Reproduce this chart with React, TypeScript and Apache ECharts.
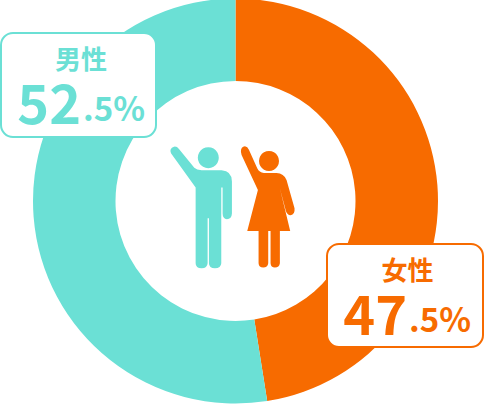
import React, { useEffect, useRef } from "react";
import * as echarts from "echarts";

const categories = ["女性", "男性"];
const values = [47.5, 52.5];
const colors = ["#f76b00", "#6be0d5"];

const manPath =
  "M33 55 Q27 40 42 35 Q50 33 57 42 L103 98 Q110 105 125 106 L185 106 Q216 108 216 140 L216 236 Q215 253 201 253 Q188 252 188 236 L188 158 L184 158 L184 385 Q183 400 165 400 Q147 400 147 385 L147 250 L143 250 L143 385 Q142 400 125 400 Q107 400 107 385 L107 158 Z";
const womanPath =
  "M243 50 Q243 35 255 34 Q263 35 267 44 L292 100 Q298 113 312 114 L350 114 Q372 115 380 135 L404 220 Q406 238 392 241 Q382 240 378 228 L360 160 L391 288 L360 288 L360 385 Q358 398 345 398 Q333 398 332 385 L332 288 L325 288 L325 385 Q323 398 310 398 Q297 398 296 385 L296 288 L262 288 L294 165 L245 60 Z";

echarts.graphic.registerShape("manIcon", echarts.graphic.extendPath(manPath, {}));
echarts.graphic.registerShape("womanIcon", echarts.graphic.extendPath(womanPath, {}));

const FONT = '"Noto Sans CJK JP", "Noto Sans", sans-serif';

function labelBox(i: number, x: number, y: number, w: number, h: number) {
  const color = colors[i];
  const [whole, frac] = values[i].toFixed(1).split(".");
  const cx = x + w / 2 + 2.5;
  return [
    {
      type: "rect",
      shape: { x, y, width: w, height: h, r: 12 },
      style: { fill: "#ffffff", stroke: color, lineWidth: 2 },
      z: 10,
    },
    {
      type: "text",
      x: cx,
      y: y + 24,
      style: {
        text: categories[i],
        fill: color,
        font: `700 26px ${FONT}`,
        textAlign: "center",
        textVerticalAlign: "middle",
      },
      z: 11,
    },
    {
      type: "text",
      x: x + 144,
      y: y + 67,
      style: {
        text: `{a|${whole}}{b|.${frac}%}`,
        textAlign: "right",
        textVerticalAlign: "middle",
        rich: {
          a: { fill: color, font: `700 54px ${FONT}`, lineHeight: 44 },
          b: { fill: color, font: `700 33px ${FONT}`, lineHeight: 30, padding: [14, 0, 0, 2] },
        },
      },
      z: 11,
    },
  ];
}

export default function App() {
  const ref = useRef<HTMLDivElement>(null);
  useEffect(() => {
    const chart = echarts.init(ref.current!, null, { renderer: "svg" });
    chart.setOption({
      animation: false,
      backgroundColor: "#ffffff",
      series: [
        {
          type: "pie",
          center: [235.5, 201],
          radius: [120, 202.5],
          startAngle: 90,
          clockwise: true,
          silent: true,
          label: { show: false },
          labelLine: { show: false },
          data: categories.map((name, i) => ({
            name,
            value: values[i],
            itemStyle: { color: colors[i] },
          })),
        },
      ],
      graphic: [
        { type: "circle", shape: { cx: 208.3, cy: 157.7, r: 10.5 }, style: { fill: colors[1] } },
        { type: "manIcon", x: 160, y: 135, scaleX: 1 / 3, scaleY: 1 / 3, style: { fill: colors[1] } },
        { type: "circle", shape: { cx: 269, cy: 161, r: 10 }, style: { fill: colors[0] } },
        { type: "womanIcon", x: 160, y: 135, scaleX: 1 / 3, scaleY: 1 / 3, style: { fill: colors[0] } },
        ...labelBox(1, 1, 33, 155, 104),
        ...labelBox(0, 327, 244, 156, 103),
      ],
    });
    return () => chart.dispose();
  }, []);
  return (
    <div
      ref={ref}
      style={{ position: "absolute", left: 0, top: 0, width: 484, height: 404 }}
    />
  );
}
